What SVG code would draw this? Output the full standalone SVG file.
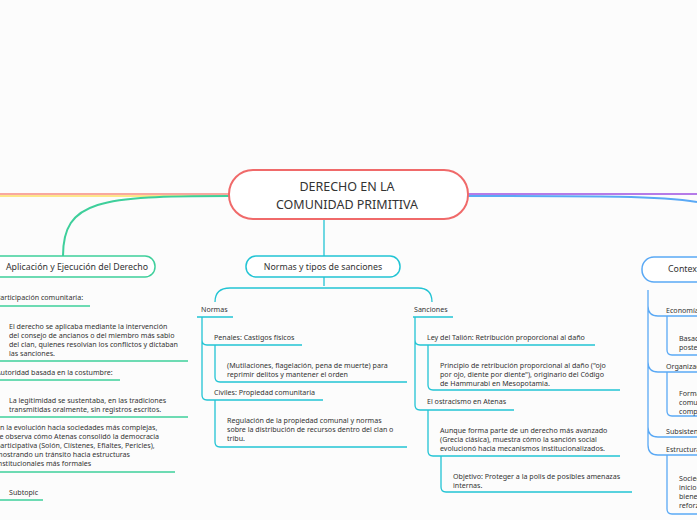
<svg xmlns="http://www.w3.org/2000/svg" width="697" height="520" viewBox="0 0 697 520">
<style>
text{font-family:"Noto Sans","Liberation Sans",sans-serif;fill:#333}
.s{font-size:7.1px}
.t{font-size:8.8px}
.c{font-size:12.5px;text-anchor:middle}
.g{stroke:#3ecf9b;fill:none;stroke-width:1.3}
.b{stroke:#22c4d4;fill:none;stroke-width:1.3}
.u{stroke:#5aa9f5;fill:none;stroke-width:1.3}
</style>
<rect width="697" height="520" fill="#fcfcfc"/>
<g id="connectors">
<path d="M0 194 H229" stroke="#f8a8a0" stroke-width="2" fill="none"/>
<path d="M0 196 H229" stroke="#fde68a" stroke-width="2" fill="none"/>
<path d="M229 196 C100 196 63 200 63 256" stroke="#3ecf9b" stroke-width="2" fill="none"/>
<path d="M468 194 H697" stroke="#b57be8" stroke-width="2" fill="none"/>
<path d="M468 196 C600 196 660 196 697 202" stroke="#5aa9f5" stroke-width="2" fill="none"/>
<path d="M324 219 V256" class="b"/>
<path d="M324 277 V286 M215 302 Q215 288 230 288 H418 Q432 288 432 302" class="b"/>
<path d="M0 306 H90 M0 361 H188 M0 380 H120 M0 417 H188 M0 472 H175 M0 500 H43" class="g"/>
<path d="M197 317 H233 M202 317 V340 Q202 345 207 345 H302 M202 340 V395 Q202 400 207 400 H323" class="b"/>
<path d="M215 345 V377 Q215 382 220 382 H407 M215 400 V442 Q215 447 220 447 H407" class="b"/>
<path d="M413 317 H453 M415 317 V340 Q415 345 420 345 H595 M415 340 V405 Q415 410 420 410 H514" class="b"/>
<path d="M428 345 V385 Q428 390 433 390 H620 M428 410 V451 Q428 456 433 456 H620 M441 456 V487 Q441 492 446 492 H632" class="b"/>
<path d="M648 290 V306 Q648 316 658 316 H697 M648 306 V362 Q648 372 658 372 H697 M648 362 V427 Q648 437 658 437 H697 M648 427 V445 Q648 455 658 455 H697" class="u"/>
<path d="M667 316 V350 Q667 355 672 355 H697 M667 372 V411 Q667 416 672 416 H697 M667 455 V509 Q667 514 672 514 H697" class="u"/>
</g>
<g id="central">
<rect x="229" y="170" width="239" height="49" rx="24" fill="#fff" stroke="#f06a6a" stroke-width="2"/>
<text class="c" x="347" y="191">DERECHO EN LA</text>
<text class="c" x="347" y="209">COMUNIDAD PRIMITIVA</text>
</g>
<g id="aplicacion">
<rect x="-40" y="256" width="195" height="21" rx="10" fill="#fff" stroke="#3ecf9b" stroke-width="1.5"/>
<text class="t" x="148" y="270" text-anchor="end">Aplicación y Ejecución del Derecho</text>
<text class="s" x="-4" y="300">Participación comunitaria:</text>
<text class="s" x="9" y="329">El derecho se aplicaba mediante la intervención</text>
<text class="s" x="9" y="338">del consejo de ancianos o del miembro más sabio</text>
<text class="s" x="9" y="347">del clan, quienes resolvían los conflictos y dictaban</text>
<text class="s" x="9" y="356">las sanciones.</text>
<text class="s" x="-4" y="375">Autoridad basada en la costumbre:</text>
<text class="s" x="9" y="403">La legitimidad se sustentaba, en las tradiciones</text>
<text class="s" x="9" y="412">transmitidas oralmente, sin registros escritos.</text>
<text class="s" x="-4" y="430">En la evolución hacia sociedades más complejas,</text>
<text class="s" x="-4" y="439">se observa cómo Atenas consolidó la democracia</text>
<text class="s" x="-4" y="448">participativa (Solón, Clístenes, Efialtes, Pericles),</text>
<text class="s" x="-4" y="457">mostrando un tránsito hacia estructuras</text>
<text class="s" x="-4" y="466">institucionales más formales</text>
<text class="s" x="9" y="495">Subtopic</text>
</g>
<g id="normas-sanciones">
<rect x="246" y="256" width="154" height="21" rx="10" fill="#fff" stroke="#22c4d4" stroke-width="1.5"/>
<text class="t" x="323" y="270" text-anchor="middle">Normas y tipos de sanciones</text>
<text class="s" x="201" y="312">Normas</text>
<text class="s" x="214" y="340">Penales: Castigos físicos</text>
<text class="s" x="227" y="368">(Mutilaciones, flagelación, pena de muerte) para</text>
<text class="s" x="227" y="377">reprimir delitos y mantener el orden</text>
<text class="s" x="214" y="395">Civiles: Propiedad comunitaria</text>
<text class="s" x="227" y="423">Regulación de la propiedad comunal y normas</text>
<text class="s" x="227" y="432">sobre la distribución de recursos dentro del clan o</text>
<text class="s" x="227" y="441">tribu.</text>
<text class="s" x="414" y="312">Sanciones</text>
<text class="s" x="427" y="340">Ley del Talión: Retribución proporcional al daño</text>
<text class="s" x="440" y="368">Principio de retribución proporcional al daño ("ojo</text>
<text class="s" x="440" y="377">por ojo, diente por diente"), originario del Código</text>
<text class="s" x="440" y="386">de Hammurabi en Mesopotamia.</text>
<text class="s" x="427" y="404">El ostracismo en Atenas</text>
<text class="s" x="440" y="433">Aunque forma parte de un derecho más avanzado</text>
<text class="s" x="440" y="442">(Grecia clásica), muestra cómo la sanción social</text>
<text class="s" x="440" y="451">evolucionó hacia mecanismos institucionalizados.</text>
<text class="s" x="453" y="479">Objetivo: Proteger a la polis de posibles amenazas</text>
<text class="s" x="453" y="488">internas.</text>
</g>
<g id="contexto">
<rect x="642" y="257" width="120" height="25" rx="12" fill="#fff" stroke="#5aa9f5" stroke-width="1.5"/>
<text class="t" x="668" y="272">Contexto histórico</text>
<text class="s" x="666" y="313">Economía de subsistencia</text>
<text class="s" x="679" y="341">Basada en la caza</text>
<text class="s" x="679" y="350">posteriormente</text>
<text class="s" x="666" y="369">Organización social</text>
<text class="s" x="679" y="396">Formas de vida</text>
<text class="s" x="679" y="405">comunitarias</text>
<text class="s" x="679" y="414">complejas</text>
<text class="s" x="666" y="434">Subsistencia</text>
<text class="s" x="666" y="452">Estructura social</text>
<text class="s" x="679" y="481">Sociedades</text>
<text class="s" x="679" y="490">inicio de</text>
<text class="s" x="679" y="499">bienes</text>
<text class="s" x="679" y="508">reforzar</text>
</g>
</svg>
